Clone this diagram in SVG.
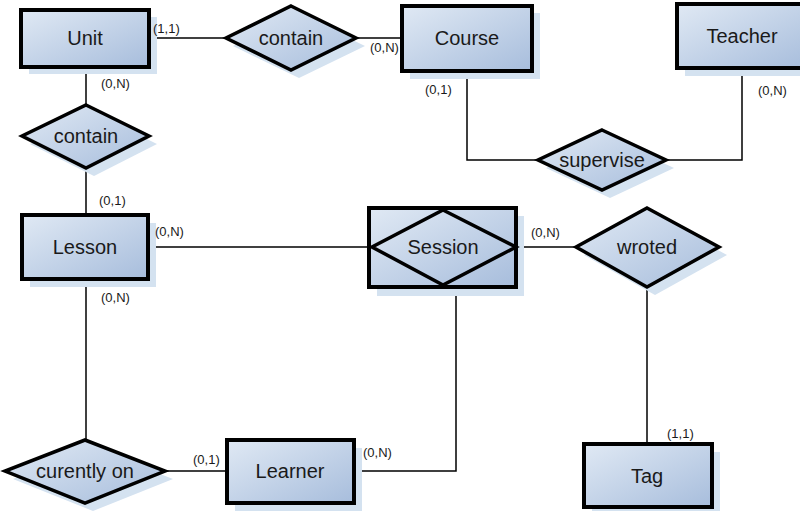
<svg xmlns="http://www.w3.org/2000/svg" width="800" height="511" viewBox="0 0 800 511">
  <defs>
    <linearGradient id="fillGrad" x1="0" y1="0" x2="1" y2="1">
      <stop offset="0" stop-color="#e0e9f4"/>
      <stop offset="1" stop-color="#a7bddc"/>
    </linearGradient>
    <style>
      .shadow { fill: #d4e2f0; stroke: none; }
      .entity { fill: url(#fillGrad); stroke: #000; stroke-width: 4; }
      .rel { fill: url(#fillGrad); stroke: #000; stroke-width: 3.5; stroke-linejoin: miter; }
      .lbl { font-family: "Liberation Sans", Arial, sans-serif; font-size: 20px; fill: #1a1a1a; text-anchor: middle; dominant-baseline: central; }
      .card { font-family: "Liberation Sans", Arial, sans-serif; font-size: 13px; fill: #1a1a1a; }
      .conn { fill: none; stroke: #000; stroke-width: 1.5; }
    </style>
  </defs>
  <rect width="800" height="511" fill="#fff"/>

  <!-- connectors -->
  <g id="connectors">
    <path class="conn" d="M149 38 H226"/>
    <path class="conn" d="M356 38 H402"/>
    <path class="conn" d="M86 67 V105"/>
    <path class="conn" d="M86 167 V215"/>
    <path class="conn" d="M467 71 V160 H538"/>
    <path class="conn" d="M666 160 H742 V68"/>
    <path class="conn" d="M148 247 H370"/>
    <path class="conn" d="M516 247 H576"/>
    <path class="conn" d="M647 287 V444"/>
    <path class="conn" d="M86 279 V440"/>
    <path class="conn" d="M165 471 H227"/>
    <path class="conn" d="M354 471 H456 V286"/>
  </g>

  <!-- entities -->
  <g id="unit">
    <rect class="shadow" x="29" y="17" width="128" height="57"/>
    <rect class="entity" x="21" y="10" width="128" height="57"/>
    <text class="lbl" x="85" y="38">Unit</text>
  </g>
  <g id="course">
    <rect class="shadow" x="410" y="13" width="130" height="66"/>
    <rect class="entity" x="402" y="6" width="130" height="65"/>
    <text class="lbl" x="467" y="38">Course</text>
  </g>
  <g id="teacher">
    <rect class="shadow" x="685" y="12" width="130" height="64"/>
    <rect class="entity" x="677" y="4" width="130" height="64"/>
    <text class="lbl" x="742" y="36">Teacher</text>
  </g>
  <g id="lesson">
    <rect class="shadow" x="30" y="223" width="126" height="64"/>
    <rect class="entity" x="22" y="215" width="126" height="64"/>
    <text class="lbl" x="85" y="247">Lesson</text>
  </g>
  <g id="session">
    <rect class="shadow" x="377" y="216" width="147" height="80"/>
    <rect class="entity" x="369" y="208" width="147" height="79"/>
    <polygon class="rel" points="443,210 516,247 443,285 372,247"/>
    <text class="lbl" x="443" y="247">Session</text>
  </g>
  <g id="learner">
    <rect class="shadow" x="235" y="448" width="127" height="63"/>
    <rect class="entity" x="227" y="440" width="127" height="63"/>
    <text class="lbl" x="290" y="471">Learner</text>
  </g>
  <g id="tag">
    <rect class="shadow" x="592" y="452" width="128" height="63"/>
    <rect class="entity" x="584" y="444" width="128" height="63"/>
    <text class="lbl" x="647" y="476">Tag</text>
  </g>

  <!-- relationships -->
  <g id="contain-course">
    <polygon class="shadow" points="299,14 365,46 299,78 233,46"/>
    <polygon class="rel" points="291,6 356,38 291,70 226,38"/>
    <text class="lbl" x="291" y="38">contain</text>
  </g>
  <g id="contain-lesson">
    <polygon class="shadow" points="94,113 157,144 94,176 30,144"/>
    <polygon class="rel" points="86,105 149,136 86,168 22,136"/>
    <text class="lbl" x="86" y="136">contain</text>
  </g>
  <g id="supervise">
    <polygon class="shadow" points="610,138 674,168 610,198 546,168"/>
    <polygon class="rel" points="602,130 666,160 602,190 538,160"/>
    <text class="lbl" x="602" y="160">supervise</text>
  </g>
  <g id="wroted">
    <polygon class="shadow" points="655,216 727,255 655,295 584,255"/>
    <polygon class="rel" points="647,208 719,247 647,287 576,247"/>
    <text class="lbl" x="647" y="247">wroted</text>
  </g>
  <g id="curently-on">
    <polygon class="shadow" points="93,448 173,479 93,511 13,479"/>
    <polygon class="rel" points="85,440 165,471 85,503 5,471"/>
    <text class="lbl" x="85" y="471">curently on</text>
  </g>

  <!-- cardinalities, drawn over the node shadows -->
  <g id="cardinalities">
    <text class="card" x="153" y="33">(1,1)</text>
    <text class="card" x="370" y="52">(0,N)</text>
    <text class="card" x="101" y="88">(0,N)</text>
    <text class="card" x="99" y="205">(0,1)</text>
    <text class="card" x="425" y="94">(0,1)</text>
    <text class="card" x="758" y="95">(0,N)</text>
    <text class="card" x="155" y="236">(0,N)</text>
    <text class="card" x="531" y="237">(0,N)</text>
    <text class="card" x="101" y="302">(0,N)</text>
    <text class="card" x="667" y="438">(1,1)</text>
    <text class="card" x="193" y="464">(0,1)</text>
    <text class="card" x="363" y="457">(0,N)</text>
  </g>
</svg>
